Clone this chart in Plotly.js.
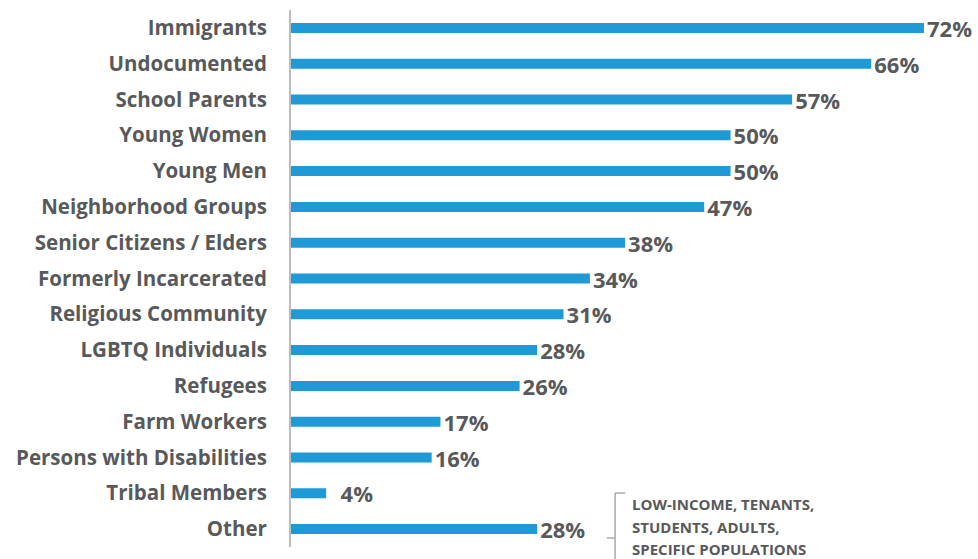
<!DOCTYPE html>
<html>
<head>
<meta charset="utf-8">
<script src="https://cdn.plot.ly/plotly-3.0.1.min.js"></script>
<style>html,body{margin:0;padding:0;background:#fff;}#chart{width:978px;height:559px;}</style>
</head>
<body>
<div id="chart"></div>
<script>
const categories = ["Immigrants","Undocumented","School Parents","Young Women","Young Men","Neighborhood Groups","Senior Citizens / Elders","Formerly Incarcerated","Religious Community","LGBTQ Individuals","Refugees","Farm Workers","Persons with Disabilities","Tribal Members","Other"];
const values = [72,66,57,50,50,47,38,34,31,28,26,17,16,4,28];
const valueLabels = ["72%","66%","57%","50%","50%","47%","38%","34%","31%","28%","26%","17%","16%","\u00a0\u00a04%","28%"];
const otherNote = ["LOW-INCOME, TENANTS,","STUDENTS, ADULTS,","SPECIFIC POPULATIONS"];

const textColor = "#58595b";
const font = "'Open Sans', sans-serif";
const noteY = [0.0801, 0.0372, -0.0037];

const trace = {
  type: "bar",
  orientation: "h",
  x: values,
  y: categories,
  text: valueLabels,
  textposition: "outside",
  constraintext: "none",
  cliponaxis: false,
  textfont: {family: font, size: 22, color: textColor, weight: "bold"},
  marker: {color: "#1f9ad6"},
  hoverinfo: "none"
};

const annotations = otherNote.map((t, i) => ({
  xref: "paper", yref: "paper",
  x: 0.5355, y: noteY[i],
  xanchor: "left", yanchor: "middle",
  text: t, showarrow: false,
  font: {family: font, size: 15, color: textColor, weight: "bold"}
}));

const layout = {
  width: 978, height: 559,
  margin: {l: 291, r: 54, t: 10, b: 12},
  paper_bgcolor: "#fff", plot_bgcolor: "#fff",
  bargap: 0.72,
  showlegend: false,
  xaxis: {range: [0, 72], visible: false, fixedrange: true},
  yaxis: {
    autorange: "reversed",
    showline: true, linecolor: "#bdbdbd", linewidth: 2,
    showgrid: false, zeroline: false,
    ticks: "outside", ticklen: 0, ticklabelstandoff: 18,
    tickfont: {family: font, size: 20.5, color: textColor, weight: "bold"},
    fixedrange: true
  },
  shapes: [
    {type: "line", xref: "paper", yref: "paper", x0: 0.512, x1: 0.512, y0: 0.1006, y1: -0.03, line: {color: "#aaaaaa", width: 1.5}},
    {type: "line", xref: "paper", yref: "paper", x0: 0.512, x1: 0.528, y0: 0.1006, y1: 0.1006, line: {color: "#aaaaaa", width: 1.5}},
    {type: "line", xref: "paper", yref: "paper", x0: 0.499, x1: 0.512, y0: 0.0168, y1: 0.0168, line: {color: "#aaaaaa", width: 1.5}}
  ],
  annotations: annotations
};

Plotly.newPlot("chart", [trace], layout, {displayModeBar: false, staticPlot: true});
</script>
</body>
</html>
